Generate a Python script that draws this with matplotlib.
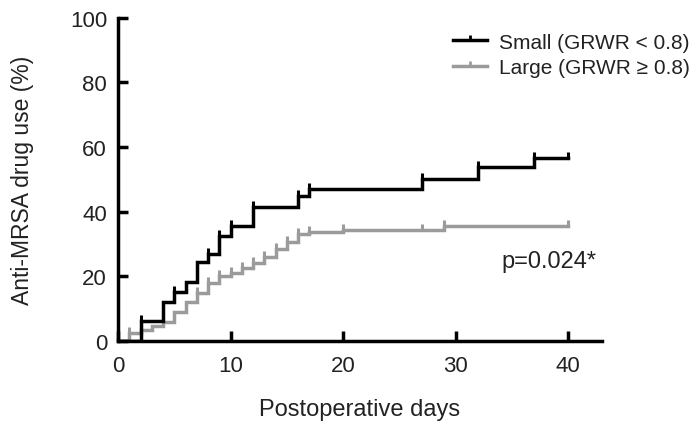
import matplotlib
matplotlib.use("Agg")
import matplotlib.pyplot as plt
from matplotlib.lines import Line2D

plt.rcParams['font.family'] = ['Liberation Sans', 'DejaVu Sans']

# ---------- data ----------
small_days = [0, 2, 4, 5, 6, 7, 8, 9, 10, 12, 16, 17, 27, 32, 37, 40]
small_pct = [0, 6.3, 12.2, 15.1, 18.2, 24.4, 27.0, 32.6, 35.7, 41.4, 45.0, 47.0, 50.2, 53.8, 56.6, 56.6]
small_censor = [2, 5, 8, 9, 10, 12, 16, 17, 27, 32, 37, 40]

large_days = [0, 1, 2, 3, 4, 5, 6, 7, 8, 9, 10, 11, 12, 13, 14, 15, 16, 17, 20, 29, 40]
large_pct = [0, 2.5, 3.5, 4.5, 6.0, 9.0, 12.0, 15.0, 18.0, 20.0, 21.0, 22.5, 24.0, 26.0,
             28.5, 30.5, 33.0, 33.8, 34.5, 35.7, 35.7]
large_censor = [1, 7, 8, 9, 10, 11, 12, 13, 14, 15, 16, 17, 20, 27, 29, 40]

labels = ["Small (GRWR < 0.8)", "Large (GRWR \u2265 0.8)"]
p_text = "p=0.024*"

# ---------- plot ----------
fig = plt.figure(figsize=(6.99, 4.27), dpi=100)
ax = fig.add_axes([0.169, 0.199, 0.692, 0.757])

tick_up = [(0, 0), (0, 1)]
gray = "#9b9b9b"


def value_at(days, pct, t):
    v = pct[0]
    for d, p in zip(days, pct):
        if d <= t:
            v = p
    return v


for days, pct, cens, col in [(large_days, large_pct, large_censor, gray),
                             (small_days, small_pct, small_censor, "black")]:
    ax.step(days, pct, where="post", color=col, lw=2.5, solid_joinstyle="miter")
    ax.plot(cens, [value_at(days, pct, t) for t in cens], ls="none", marker=tick_up,
            ms=9, mew=2.2, color=col)

ax.set_xlim(0, 43)
ax.set_ylim(0, 100)
ax.set_xticks([0, 10, 20, 30, 40])
ax.set_yticks([0, 20, 40, 60, 80, 100])
for s in ["top", "right"]:
    ax.spines[s].set_visible(False)
for s in ["left", "bottom"]:
    ax.spines[s].set_linewidth(2.5)
ax.tick_params(direction="in", length=7, width=2.5, labelsize=16, colors="black",
               labelcolor="#222222")
ax.tick_params(axis="x", pad=10)
ax.tick_params(axis="y", pad=8)

ax.set_xlabel("Postoperative days", fontsize=17, color="#222222", labelpad=16)
ax.set_ylabel("Anti-MRSA drug use (%)", fontsize=16.5, color="#222222", labelpad=26)

ax.text(38.3, 24.7, p_text, fontsize=17, color="#222222", ha="center", va="center")

handles = [Line2D([], [], color="black", lw=2.5, marker=tick_up, ms=7, mew=2),
           Line2D([], [], color=gray, lw=2.5, marker=tick_up, ms=7, mew=2)]
ax.legend(handles, labels, loc="upper right", bbox_to_anchor=(1.014, 0.965),
          bbox_transform=fig.transFigure, frameon=False, fontsize=15,
          handlelength=1.6, handletextpad=0.6, labelspacing=0.3, numpoints=1,
          labelcolor="#222222")

fig.savefig("out.png", dpi=100)
